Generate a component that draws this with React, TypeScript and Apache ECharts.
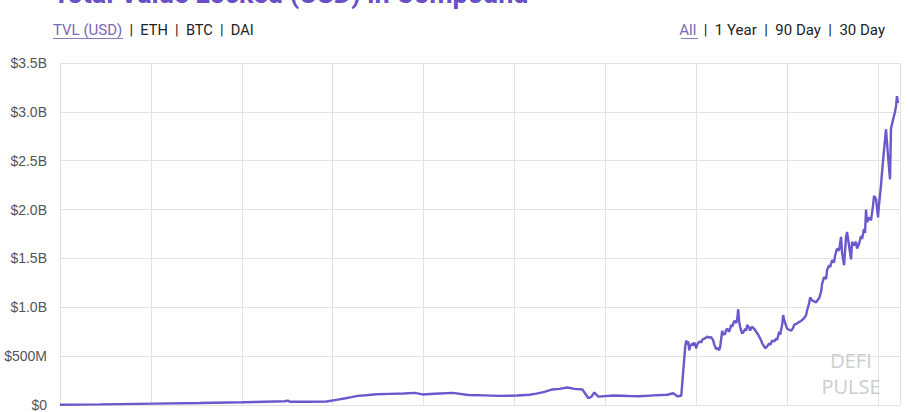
import React, { useEffect, useRef } from "react";
import * as echarts from "echarts";

// Days since launch (gridlines every 91 days = one quarter)
const days = [
  0, 40, 95, 140, 183, 225, 228, 230, 250, 267,
  278, 286, 292, 298, 306, 317, 330, 344, 355, 363,
  375, 393, 409, 425, 439, 458, 470, 477, 485, 493,
  500, 508, 515, 523, 529, 532, 535, 539, 554, 570,
  580, 595, 608, 614, 618, 622,
  626, 627, 628, 629, 630, 631, 633, 634, 635, 637,
  638, 640, 642, 643, 645, 647, 648, 650, 652, 654,
  655, 657, 658, 660, 661, 663, 664, 666, 667, 668,
  670, 672, 673, 675, 677, 678, 679, 680, 681, 682,
  683, 685, 686, 687, 688, 690, 691, 692, 693, 695,
  697, 699, 700, 702, 703, 705, 706, 708, 710, 711,
  713, 715, 717, 718, 720, 721, 723, 724, 725, 726,
  728, 730, 732, 734, 735, 737, 740, 742, 745, 747,
  748, 750, 751, 753, 755, 757, 759, 760, 762, 763,
  765, 767, 768, 770, 771, 773, 775, 776, 778, 780,
  782, 783, 785, 787, 788, 789, 790, 792, 793, 795,
  796, 797, 798, 800, 802, 803, 805, 806, 807, 808,
  810, 812, 814, 815, 817, 819, 820, 822, 823, 825,
  827, 829, 831, 832, 834, 836, 837, 838, 839,
];

// Total value locked, in millions of USD
const tvlM = [
  3, 6, 14, 20, 28, 38, 45, 34, 34, 36,
  55, 69, 80, 93, 100, 110, 114, 117, 124, 108,
  115, 124, 103, 98, 93, 97, 105, 117, 135, 159,
  165, 179, 165, 159, 69, 85, 128, 86, 97, 92,
  90, 98, 105, 120, 90, 95,
  600, 660, 620, 650, 560, 600, 630, 610, 640, 580,
  620, 650, 640, 665, 680, 690, 700, 690, 695, 660,
  620, 570, 585, 560, 600, 760, 720, 730, 770, 780,
  750, 820, 800, 860, 840, 880, 980, 850, 800, 760,
  730, 760, 780, 760, 820, 790, 760, 790, 800, 780,
  750, 720, 700, 660, 630, 600, 580, 600, 630, 615,
  660, 650, 680, 665, 750, 720, 820, 920, 870, 840,
  780, 770, 760, 790, 820, 830, 850, 860, 890, 920,
  970, 1040, 1100, 1070, 1060, 1050, 1080, 1090, 1160, 1240,
  1310, 1290, 1380, 1430, 1410, 1480, 1460, 1530, 1600, 1580,
  1720, 1560, 1430, 1720, 1770, 1700, 1630, 1490, 1670, 1630,
  1660, 1670, 1600, 1650, 1730, 1700, 1800, 1760, 2000, 1870,
  1920, 1890, 2040, 2140, 2110, 1920, 2050, 2250, 2380, 2610,
  2820, 2550, 2310, 2830, 2920, 3000, 3060, 3160, 3090,
];

const titleText = "Total Value Locked (USD) in Compound";
const leftTabs = ["TVL (USD)", "ETH", "BTC", "DAI"];
const rightTabs = ["All", "1 Year", "90 Day", "30 Day"];
const watermark = ["DEFI", "PULSE"];

const fmtY = (v: number) => {
  if (v === 0) return "$0";
  if (v < 1000) return "$" + v + "M";
  return "$" + (v / 1000).toFixed(1) + "B";
};

export default function App() {
  const ref = useRef<HTMLDivElement>(null);
  useEffect(() => {
    if (!ref.current) return;
    const chart = echarts.init(ref.current, undefined, { renderer: "svg" });
    const data = days.map((d, i) => [d, tvlM[i]]);
    const font = "Roboto, 'Noto Sans', sans-serif";
    const wmFont = "20px 'Open Sans', 'Liberation Sans', sans-serif";
    chart.setOption({
      animation: false,
      backgroundColor: "#ffffff",
      grid: { left: 60, right: 8, top: 63, bottom: 5, containLabel: false },
      xAxis: {
        type: "value",
        min: 0,
        max: 841,
        interval: 91,
        axisLine: { show: false },
        axisTick: { show: false },
        axisLabel: { show: false },
        splitLine: { show: true, lineStyle: { color: "#e2e2e2", width: 1 } },
      },
      yAxis: {
        type: "value",
        min: 0,
        max: 3500,
        interval: 500,
        axisLine: { show: false },
        axisTick: { show: false },
        axisLabel: {
          formatter: fmtY,
          color: "#555555",
          fontSize: 14,
          fontFamily: "'Liberation Sans', Arial, sans-serif",
          margin: 13,
        },
        splitLine: { show: true, lineStyle: { color: "#e2e2e2", width: 1 } },
      },
      graphic: [
        {
          type: "text",
          x: 53,
          y: 7,
          style: {
            text: titleText,
            verticalAlign: "bottom",
            font: "bold 27px " + font,
            fill: "#6b4fc6",
          },
          z: 10,
        },
        {
          type: "text",
          x: 53,
          y: 30,
          style: {
            text: "{a|" + leftTabs[0] + "}{b|  |  " + leftTabs.slice(1).join("  |  ") + "}",
            verticalAlign: "middle",
            rich: {
              a: { fontFamily: font, fontSize: 15, fill: "#7d67b8" },
              b: { fontFamily: font, fontSize: 14.6, fill: "#222222" },
            },
          },
          z: 10,
        },
        {
          type: "line",
          shape: { x1: 53, y1: 38.5, x2: 123, y2: 38.5 },
          style: { stroke: "#8c7ac4", lineWidth: 1 },
          z: 10,
        },
        {
          type: "text",
          x: 885,
          y: 30,
          style: {
            text: "{a|" + rightTabs[0] + "}{b|  |  " + rightTabs.slice(1).join("  |  ") + "}",
            align: "right",
            verticalAlign: "middle",
            rich: {
              a: { fontFamily: font, fontSize: 15, fill: "#7d67b8" },
              b: { fontFamily: font, fontSize: 15, fill: "#222222" },
            },
          },
          z: 10,
        },
        {
          type: "line",
          shape: { x1: 681, y1: 38.5, x2: 698, y2: 38.5 },
          style: { stroke: "#8c7ac4", lineWidth: 1 },
          z: 10,
        },
        {
          type: "text",
          x: 851,
          y: 360,
          style: {
            text: watermark[0],
            align: "center",
            verticalAlign: "middle",
            lineHeight: 20,
            font: wmFont,
            fill: "#cdcdcd",
          },
          z: 1,
        },
        {
          type: "text",
          x: 851,
          y: 386,
          style: {
            text: watermark[1],
            align: "center",
            verticalAlign: "middle",
            lineHeight: 20,
            font: wmFont,
            fill: "#cdcdcd",
          },
          z: 1,
        },
      ],
      series: [
        {
          type: "line",
          data,
          showSymbol: false,
          smooth: false,
          lineStyle: { color: "#6a58cc", width: 2.4 },
          z: 5,
        },
      ],
    });
    return () => chart.dispose();
  }, []);
  return (
    <div
      ref={ref}
      style={{ position: "fixed", left: 0, top: 0, width: 908, height: 412, background: "#fff" }}
    />
  );
}
